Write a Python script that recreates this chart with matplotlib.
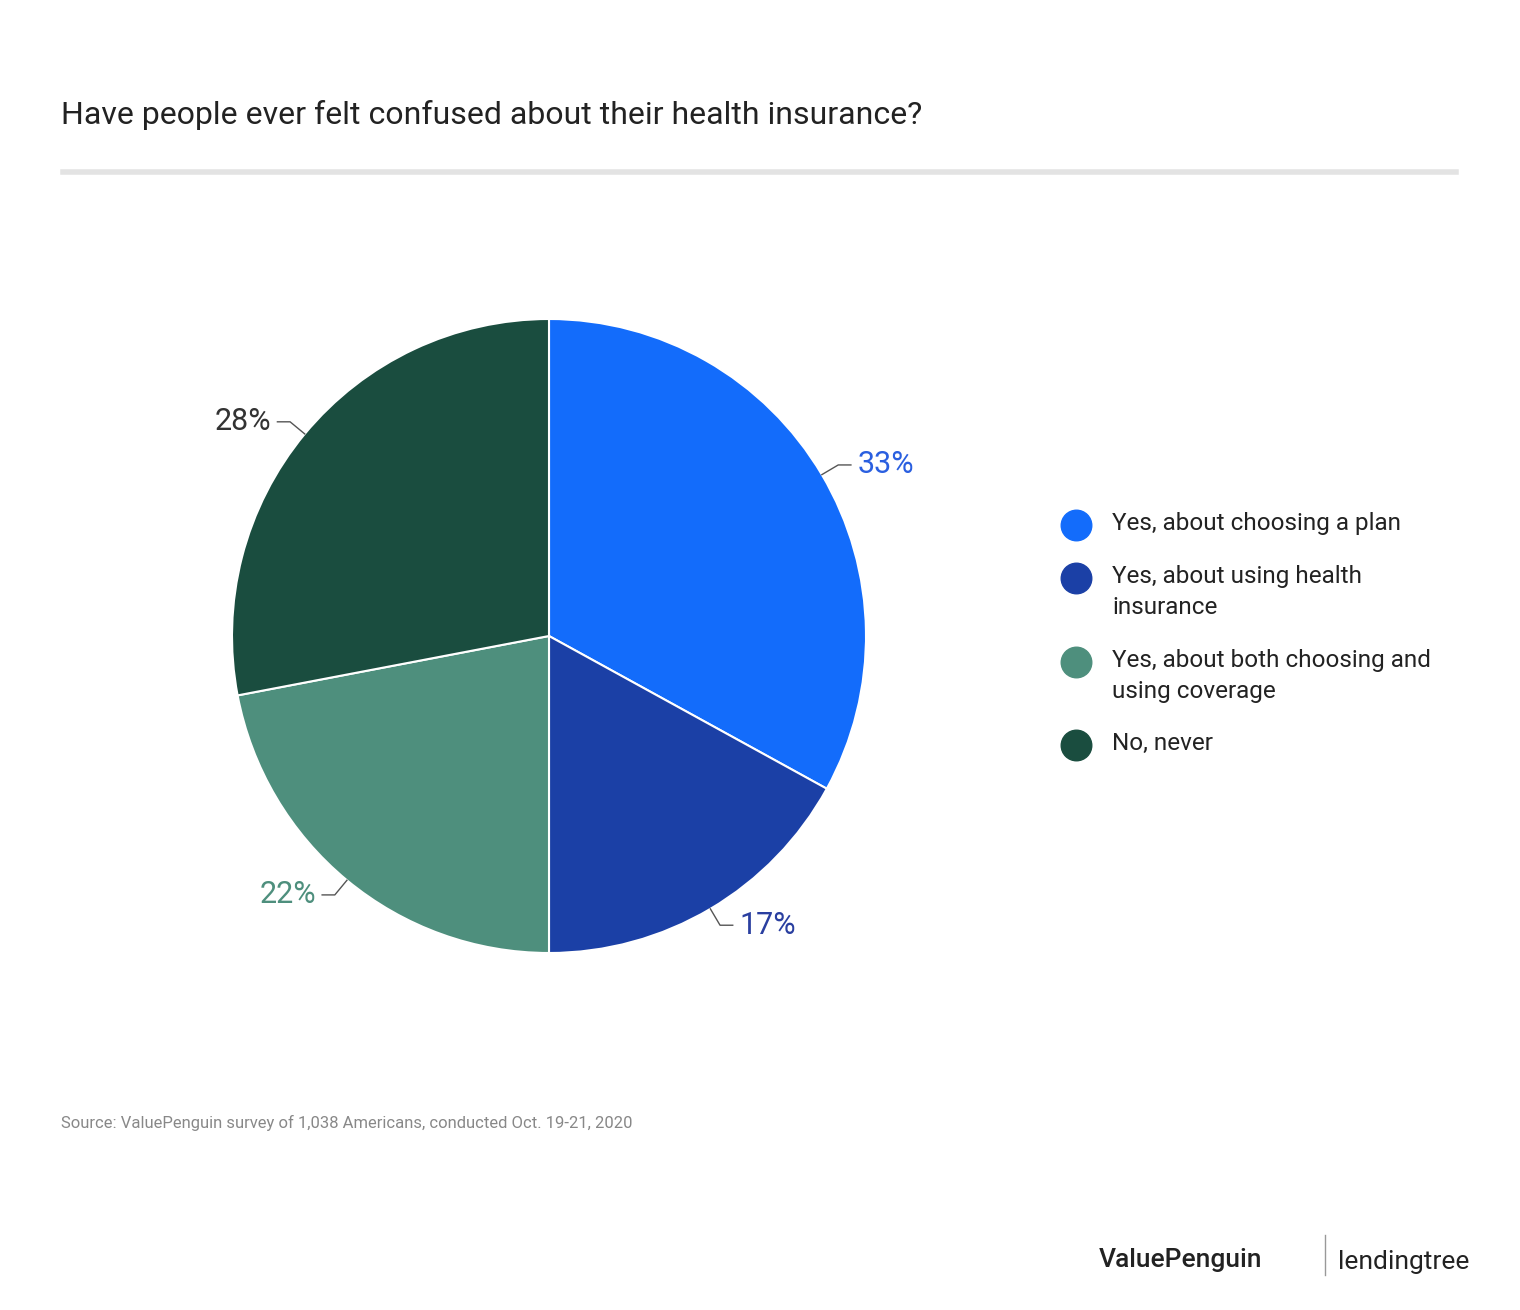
import numpy as np
import matplotlib.pyplot as plt
from matplotlib.lines import Line2D

labels = ['Yes, about choosing a plan', 'Yes, about using health\ninsurance',
          'Yes, about both choosing and\nusing coverage', 'No, never']
values = [33, 17, 22, 28]
colors = ['#136cfb', '#1b40a6', '#4e8f7d', '#1a4d3f']
label_colors = ['#2a5fe0', '#2a3fa0', '#4e8f7d', '#333333']

fig = plt.figure(figsize=(15.2, 13.1), dpi=100)
plt.rcParams['font.family'] = 'Roboto'

fig.text(61/1520, 1 - 115/1310, 'Have people ever felt confused about their health insurance?',
         fontsize=23, color='#222222', va='center')
fig.add_artist(Line2D([63/1520, 1456/1520], [1 - 172/1310] * 2, color='#e3e3e3', lw=4))

ax = fig.add_axes([(549 - 317) / 1520, 1 - (636 + 317) / 1310, 634 / 1520, 634 / 1310])
wedges, _ = ax.pie(values, colors=colors, startangle=90, counterclock=False, radius=1,
                   wedgeprops=dict(edgecolor='white', linewidth=1.5))
ax.set_xlim(-1, 1)
ax.set_ylim(-1, 1)
ax.set_aspect('equal')

for w, v, c in zip(wedges, values, label_colors):
    ang = np.deg2rad((w.theta1 + w.theta2) / 2)
    ca, sa = np.cos(ang), np.sin(ang)
    sign = 1 if ca > 0 else -1
    ax.plot([ca * 1.0, ca * 1.06, ca * 1.06 + sign * 0.04], [sa * 1.0, sa * 1.06, sa * 1.06],
            color='#555555', lw=1, clip_on=False)
    ax.text(ca * 1.06 + sign * 0.06, sa * 1.06, f'{v}%', fontsize=22, color=c,
            ha='left' if sign > 0 else 'right', va='center')

ys = [525, 578, 662, 745]
for lab, c, y in zip(labels, colors, ys):
    fig.add_artist(Line2D([1076/1520], [1 - y/1310], marker='o', markersize=22, color=c))
    fig.text(1112/1520, 1 - (y - 13)/1310, lab, fontsize=17.5, color='#222222', va='top',
             linespacing=1.45)

fig.text(61/1520, 1 - 1123/1310, 'Source: ValuePenguin survey of 1,038 Americans, conducted Oct. 19-21, 2020',
         fontsize=12, color='#888888', va='center')
fig.text(1262/1520, 1 - 1260/1310, 'ValuePenguin', fontsize=19, color='#222222', ha='right',
         va='center', fontweight='medium')
fig.add_artist(Line2D([1325/1520] * 2, [1 - 1235/1310, 1 - 1275/1310], color='#999999', lw=1))
fig.text(1338/1520, 1 - 1262/1310, 'lendingtree', fontsize=19, color='#222222', va='center')

fig.savefig('out.png', dpi=100)
